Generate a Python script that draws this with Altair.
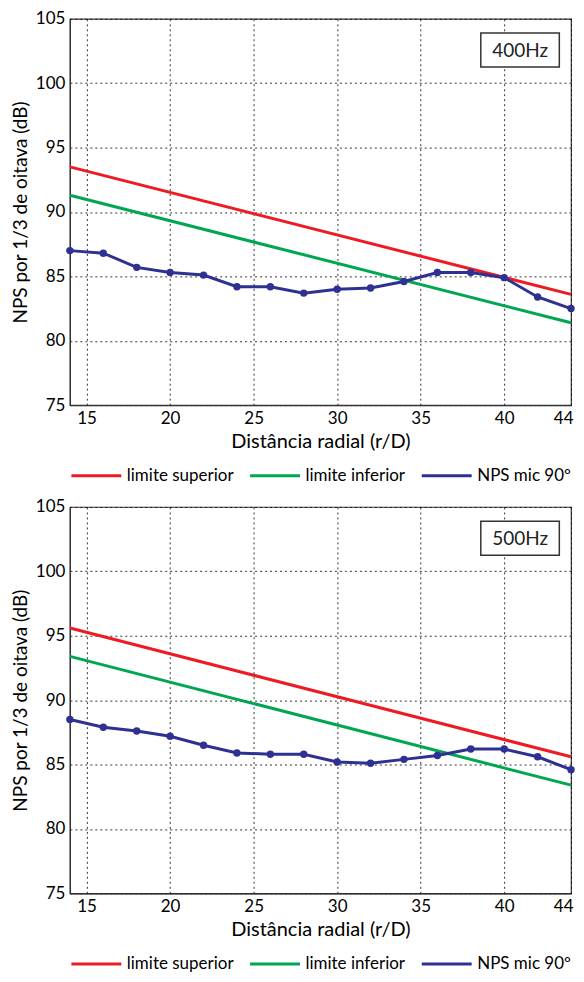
import altair as alt
import pandas as pd

# ---- data ----
dist = [14, 16, 18, 20, 22, 24, 26, 28, 30, 32, 34, 36, 38, 40, 42, 44]
nps_400 = [87.0, 86.8, 85.7, 85.3, 85.1, 84.2, 84.2, 83.7, 84.0, 84.1, 84.6, 85.3, 85.3, 84.9, 83.4, 82.5]
nps_500 = [88.5, 87.9, 87.6, 87.2, 86.5, 85.9, 85.8, 85.8, 85.2, 85.1, 85.4, 85.7, 86.2, 86.2, 85.6, 84.6]

lim_x = [14, 44]
sup_400 = [93.5, 83.6]
inf_400 = [91.3, 81.4]
sup_500 = [95.6, 85.6]
inf_500 = [93.4, 83.4]

freq_labels = ["400Hz", "500Hz"]
series = ["limite superior", "limite inferior", "NPS mic 90º"]
colors = ["#ed1c24", "#00a651", "#2e3192"]

x_ticks = [15, 20, 25, 30, 35, 40, 44]
y_ticks = [75, 80, 85, 90, 95, 100, 105]

# annotation box (data units)
box_x = [38.6, 43.3]
box_y = [101.25, 103.9]
lab_x = 40.95
lab_y = 102.5

FONT = "Lato"


def panel(nps, sup, inf, label):
    rows = []
    for xv, yv in zip(lim_x, sup):
        rows.append({"x": xv, "y": yv, "serie": series[0]})
    for xv, yv in zip(lim_x, inf):
        rows.append({"x": xv, "y": yv, "serie": series[1]})
    for xv, yv in zip(dist, nps):
        rows.append({"x": xv, "y": yv, "serie": series[2]})
    df = pd.DataFrame(rows)
    df_pts = pd.DataFrame({"x": dist, "y": nps})

    xs = alt.Scale(domain=[14, 44], nice=False, zero=False)
    ys = alt.Scale(domain=[75, 105], nice=False, zero=False)
    xax = alt.Axis(values=x_ticks, title="Distância radial (r/D)", grid=True,
                   labelFlush=True, labelFlushOffset=2)
    yax = alt.Axis(values=y_ticks, title="NPS por 1/3 de oitava (dB)", grid=True)

    lines = alt.Chart(df).mark_line(strokeWidth=3, clip=True).encode(
        x=alt.X("x:Q", scale=xs, axis=xax),
        y=alt.Y("y:Q", scale=ys, axis=yax),
        color=alt.Color(
            "serie:N",
            scale=alt.Scale(domain=series, range=colors),
            sort=series,
            legend=alt.Legend(
                title=None,
                orient="bottom",
                offset=-2,
                padding=0,
                direction="horizontal",
                symbolType="stroke",
                symbolStrokeWidth=3,
                symbolSize=2500,
                labelFontSize=17,
                labelFont=FONT,
                labelColor="black",
                labelOffset=4,
                columnPadding=10,
                labelLimit=300,
            ),
        ),
        detail="serie:N",
    )
    pts = alt.Chart(df_pts).mark_circle(size=55, opacity=1, color="#2e3192").encode(
        x=alt.X("x:Q", scale=xs),
        y=alt.Y("y:Q", scale=ys),
    )
    box_df = pd.DataFrame({"x": [box_x[0]], "x2": [box_x[1]], "y": [box_y[0]], "y2": [box_y[1]],
                           "lx": [lab_x], "ly": [lab_y], "t": [label]})
    box = alt.Chart(box_df).mark_rect(fill="white", stroke="#333333", strokeWidth=1.5).encode(
        x=alt.X("x:Q", scale=xs), x2="x2:Q",
        y=alt.Y("y:Q", scale=ys), y2="y2:Q",
    )
    txt = alt.Chart(box_df).mark_text(font=FONT, fontSize=19, color="#222222").encode(
        x=alt.X("lx:Q", scale=xs),
        y=alt.Y("ly:Q", scale=ys),
        text="t:N",
    )
    return alt.layer(lines, pts, box, txt).properties(width=502, height=387)


top = panel(nps_400, sup_400, inf_400, freq_labels[0])
bottom = panel(nps_500, sup_500, inf_500, freq_labels[1])

chart = alt.vconcat(top, bottom, spacing=12).resolve_scale(
    color="independent", x="independent", y="independent"
).resolve_legend(color="independent").configure(
    font=FONT,
).configure_view(
    stroke="#333333", strokeWidth=1.2
).configure_axis(
    labelFont=FONT, labelFontSize=17, labelColor="black",
    titleFont=FONT, titleFontWeight="normal", titleColor="black",
    domainColor="#333333", domainWidth=1.2,
    gridColor="black", gridDash=[2, 3], gridOpacity=0.8, gridWidth=1,
    tickSize=0, labelPadding=5,
).configure_axisX(titlePadding=5, titleFontSize=20).configure_axisY(titlePadding=5, titleFontSize=19).properties(
    padding={"left": 2, "top": 0, "right": 0, "bottom": 0}
)

chart.save("out.html", embed_options={"renderer": "svg", "actions": False})
